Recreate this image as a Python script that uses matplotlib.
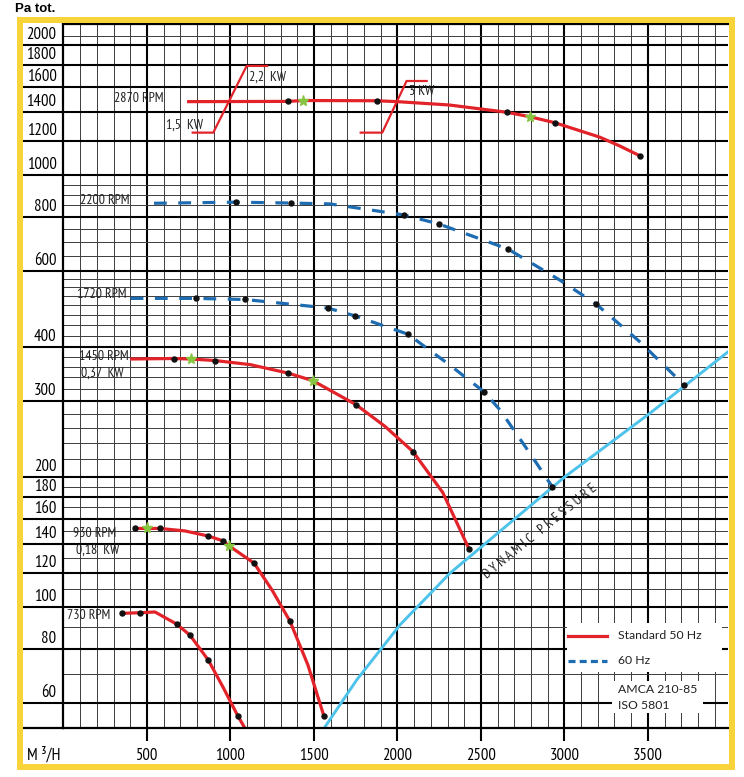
import matplotlib
matplotlib.use('Agg')
import matplotlib.pyplot as plt
import matplotlib.transforms as mtransforms
from matplotlib.patches import Rectangle
from matplotlib.ticker import FixedLocator, NullFormatter

# curves: flow (m3/h) and total pressure (Pa)
q_2870 = [740, 1342, 1436, 1875, 2000, 2310, 2654, 2793, 2943, 3210, 3332, 3455]
p_2870 = [1478, 1480, 1487, 1485, 1478, 1452, 1397, 1364, 1321, 1224, 1167, 1106]
dots_2870 = [1, 3, 6, 8, 11]
stars_2870 = [2, 7]

q_2200 = [542, 1031, 1362, 1596, 2039, 2249, 2662, 2973, 3189, 3452, 3715]
p_2200 = [860, 865, 861, 857, 808, 770, 674, 571, 503, 411, 327]
dots_2200 = [1, 2, 4, 5, 6, 8, 10]

q_1720 = [402, 793, 1087, 1584, 1745, 2063, 2314, 2518, 2614, 2793, 2927]
p_1720 = [518, 518, 515, 492, 472, 428, 363, 315, 286, 227, 190]
dots_1720 = [1, 2, 3, 4, 5, 7, 10]

q_1450 = [398, 660, 762, 907, 1117, 1344, 1494, 1752, 1925, 2093, 2272, 2430]
p_1450 = [375, 376, 375, 372, 364, 348, 334, 294, 262, 229, 184, 136]
dots_1450 = [1, 3, 5, 7, 9, 11]
stars_1450 = [2, 6]

q_930 = [428, 498, 578, 728, 867, 953, 993, 1141, 1249, 1356, 1464, 1560]
p_930 = [152, 152, 152, 150, 146, 142.4, 138.4, 126.4, 109.5, 92.8, 73.4, 55.9]
dots_930 = [0, 2, 4, 5, 7, 9, 11]
stars_930 = [1, 6]

q_730 = [348, 458, 548, 678, 757, 867, 955, 1045, 1087]
p_730 = [96.7, 97.0, 97.4, 91.3, 86.1, 75.4, 65.3, 55.9, 52.4]
dots_730 = [0, 1, 3, 4, 5, 7]

q_dyn = [1562, 1756, 2015, 2314, 2504, 3003, 3512, 3979]
p_dyn = [52.5, 67.8, 90.9, 119.7, 137.9, 200.2, 280.8, 389.3]

# motor power steps
kw1_q = [774, 897, 1097, 1220]
kw1_p = [1253, 1253, 1788, 1788]
kw2_q = [1780, 1909, 2055, 2175]
kw2_p = [1253, 1253, 1650, 1650]

y_major = [60, 80, 100, 120, 140, 160, 180, 200, 300, 400, 600, 800,
           1000, 1200, 1400, 1600, 1800, 2000]
y_minor = [70, 90, 110, 130, 150, 170, 190, 220, 240, 260, 280, 320, 340,
           360, 380, 425, 450, 475, 500, 525, 550, 575, 650, 700, 750,
           850, 900, 950, 2100]
x_major = [500, 1000, 1500, 2000, 2500, 3000, 3500]

RED = '#E2232A'
DBLUE = '#1E6CB1'
LBLUE = '#4DC2EA'
GREEN = '#86C540'
YELLOW = '#F8D33A'
NARROW = ['PT Sans Narrow', 'Roboto Condensed', 'DejaVu Sans']

fig = plt.figure(figsize=(7.44, 7.77), dpi=100)
ax = fig.add_axes([63.5 / 744, 1 - 728.3 / 777, 664.5 / 744, 704 / 777])
ax.set_xlim(0, 3980)
ax.set_yscale('log')
ax.set_ylim(52.4, 2232)

ax.xaxis.set_major_locator(FixedLocator(x_major))
ax.xaxis.set_minor_locator(FixedLocator(list(range(100, 4000, 100))))
ax.yaxis.set_major_locator(FixedLocator(y_major))
ax.yaxis.set_minor_locator(FixedLocator(y_minor))
ax.yaxis.set_major_formatter(NullFormatter())
ax.yaxis.set_minor_formatter(NullFormatter())
ax.set_axisbelow(True)
ax.grid(which='major', color='black', lw=1.5)
ax.grid(which='minor', color='#3c3c3c', lw=0.7)
ax.tick_params(axis='y', which='major', length=31.3, width=1.5, color='black')
ax.tick_params(axis='both', which='minor', length=0)
ax.tick_params(axis='x', which='major', length=9.4, width=1.5, pad=5,
               labelsize=12)
for lab in ax.get_xticklabels():
    lab.set_family(NARROW)
for s in ['left', 'bottom', 'top']:
    ax.spines[s].set_linewidth(1.6)
ax.spines['right'].set_visible(False)
ax.plot([-0.066, 0], [0, 0], transform=ax.transAxes, clip_on=False,
        color='black', lw=1.6)

ytrans = mtransforms.blended_transform_factory(ax.transAxes, ax.transData)
for v in y_major:
    ax.text(-0.0105, v * 1.01, str(v), transform=ytrans, ha='right',
            va='bottom', fontsize=12, family=NARROW)


def curve(q, p, color, dots, stars=(), dashed=False):
    kw = dict(color=color, lw=2.3, solid_capstyle='butt')
    if dashed:
        kw['dashes'] = (4, 3.6)
    ax.plot(q, p, **kw)
    ax.plot([q[i] for i in dots], [p[i] for i in dots], 'o', color='#111111',
            ms=3.6, zorder=4)
    if stars:
        ax.plot([q[i] for i in stars], [p[i] for i in stars], '*',
                color=GREEN, ms=8, zorder=5)


ax.plot(q_dyn, p_dyn, color=LBLUE, lw=2.1)
curve(q_2870, p_2870, RED, dots_2870, stars_2870)
curve(q_2200, p_2200, DBLUE, dots_2200, dashed=True)
curve(q_1720, p_1720, DBLUE, dots_1720, dashed=True)
curve(q_1450, p_1450, RED, dots_1450, stars_1450)
curve(q_930, p_930, RED, dots_930, stars_930)
curve(q_730, p_730, RED, dots_730)
ax.plot(kw1_q, kw1_p, color=RED, lw=1.6)
ax.plot(kw2_q, kw2_p, color=RED, lw=1.6)

lab_kw = dict(fontsize=10, family=NARROW, color='#222222', va='center')
ax.text(596, 1505, '2870 RPM', ha='right', **lab_kw)
ax.text(835, 1305, '1,5  KW', ha='right', **lab_kw)
ax.text(1110, 1688, '2,2  KW', ha='left', **lab_kw)
ax.text(2069, 1556, '3 KW', ha='left', **lab_kw)
ax.text(394, 875, '2200 RPM', ha='right', **lab_kw)
ax.text(378, 530, '1720 RPM', ha='right', **lab_kw)
ax.text(95, 380, '1450 RPM', ha='left', **lab_kw)
ax.text(103, 348, '0,37  KW', ha='left', **lab_kw)
ax.text(55, 148, '930 RPM', ha='left', **lab_kw)
ax.text(75, 135.6, '0,18  KW', ha='left', **lab_kw)
ax.text(19, 95.8, '730 RPM', ha='left', **lab_kw)
ax.text(2856, 150, 'D Y N A M I C   P R E S S U R E', rotation=39,
        rotation_mode='anchor', ha='center', va='center', fontsize=10,
        family=NARROW, color='#222222')

# legend boxes
ax.add_patch(Rectangle((0.7577, 0.080), 0.2333, 0.0696, transform=ax.transAxes,
                       facecolor='white', edgecolor='none', zorder=1))
ax.add_patch(Rectangle((0.8254, 0.0217), 0.137, 0.0455, transform=ax.transAxes,
                       facecolor='white', edgecolor='none', zorder=1))
ax.plot([0.7592, 0.8179], [0.1315, 0.1315], transform=ax.transAxes,
        color=RED, lw=2.3, zorder=3)
ax.plot([0.7592, 0.8179], [0.0956, 0.0956], transform=ax.transAxes,
        color=DBLUE, lw=2.3, dashes=(2.2, 1.3), zorder=3)
leg_kw = dict(transform=ax.transAxes, fontsize=8.8, family=['Lato', 'DejaVu Sans'],
              color='#222222', va='center', ha='left', zorder=3)
ax.text(0.8345, 0.1325, 'Standard 50 Hz', **leg_kw)
ax.text(0.8345, 0.0970, '60 Hz', **leg_kw)
ax.text(0.8345, 0.0558, 'AMCA 210-85', **leg_kw)
ax.text(0.8345, 0.0317, 'ISO 5801', **leg_kw)

fig.text(26.7 / 744, 1 - 755 / 777, 'M ³/H', fontsize=12, family=NARROW,
         va='center', ha='left')
fig.text(15 / 744, 1 - 9 / 777, 'Pa tot.', fontsize=9.5, fontweight='bold',
         family=['Liberation Sans', 'DejaVu Sans'], va='center', ha='left')

fig.add_artist(Rectangle((20 / 744, 1 - 767 / 777), 712 / 744, 747 / 777,
                         transform=fig.transFigure, fill=False,
                         edgecolor=YELLOW, lw=4.3, zorder=10))

fig.savefig('out.png', dpi=100)
